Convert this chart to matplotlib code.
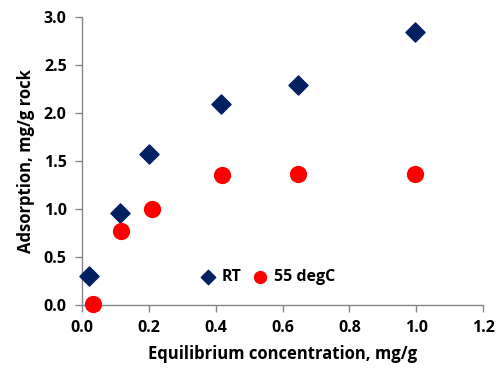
import matplotlib
matplotlib.use("Agg")
import matplotlib.pyplot as plt

rt_x = [0.02, 0.115, 0.20, 0.415, 0.645, 0.997]
rt_y = [0.30, 0.96, 1.57, 2.10, 2.29, 2.84]
t55_x = [0.033, 0.117, 0.21, 0.42, 0.647, 0.997]
t55_y = [0.01, 0.77, 1.00, 1.355, 1.365, 1.37]
xticks = [0.0, 0.2, 0.4, 0.6, 0.8, 1.0, 1.2]
yticks = [0.0, 0.5, 1.0, 1.5, 2.0, 2.5, 3.0]

plt.rcParams['font.family'] = ['Open Sans', 'DejaVu Sans']
plt.rcParams['font.weight'] = 'bold'

fig = plt.figure(figsize=(4.97, 3.8), dpi=100)
ax = fig.add_axes([0.165, 0.197, 0.807, 0.758])
ax.scatter(rt_x, rt_y, marker='D', s=95, color='#002060', label='RT', zorder=3, clip_on=False)
ax.scatter(t55_x, t55_y, marker='o', s=130, color='#FF0000', label='55 degC', zorder=3, clip_on=False)
ax.set_xlim(0, 1.2)
ax.set_ylim(0, 3.0)
ax.set_xticks(xticks)
ax.set_yticks(yticks)
ax.set_xticklabels([f"{v:.1f}" for v in xticks], fontsize=11.5, fontweight='bold')
ax.set_yticklabels([f"{v:.1f}" for v in yticks], fontsize=11.5, fontweight='bold')
for s in ['top', 'right']:
    ax.spines[s].set_visible(False)
for s in ['left', 'bottom']:
    ax.spines[s].set_color('#868686')
    ax.spines[s].set_linewidth(1.0)
ax.tick_params(axis='both', direction='out', length=5, color='#868686', width=1.0, pad=6)
ax.set_xlabel('Equilibrium concentration, mg/g', fontsize=12, fontweight='bold', labelpad=6)
ax.set_ylabel('Adsorption, mg/g rock', fontsize=12, fontweight='bold', labelpad=6)
ax.legend(loc='center', bbox_to_anchor=(0.46, 0.097), ncol=2, frameon=False, fontsize=11.5,
          handletextpad=0.25, columnspacing=0.6, handlelength=1.2, markerscale=0.75)
fig.savefig('out.png', dpi=100)
